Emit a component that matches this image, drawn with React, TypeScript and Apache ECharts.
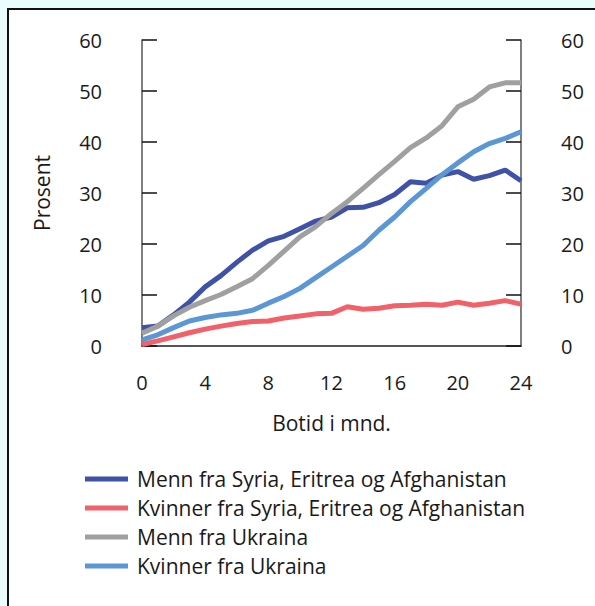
import React, { useEffect, useRef } from "react";
import * as echarts from "echarts";

const months = [0, 1, 2, 3, 4, 5, 6, 7, 8, 9, 10, 11, 12, 13, 14, 15, 16, 17, 18, 19, 20, 21, 22, 23, 24];
const mennSyria = [3.6, 3.9, 6.1, 8.6, 11.6, 13.8, 16.4, 18.8, 20.6, 21.5, 23.0, 24.5, 25.3, 27.1, 27.2, 28.1, 29.7, 32.2, 31.9, 33.5, 34.2, 32.7, 33.4, 34.5, 32.4];
const kvinnerSyria = [0.3, 1.0, 1.8, 2.6, 3.3, 3.9, 4.4, 4.8, 4.9, 5.5, 5.9, 6.3, 6.4, 7.7, 7.2, 7.4, 7.9, 8.0, 8.2, 8.0, 8.6, 8.0, 8.4, 8.9, 8.2];
const mennUkraina = [2.5, 3.9, 5.9, 7.6, 8.9, 10.1, 11.6, 13.2, 15.8, 18.6, 21.4, 23.4, 26.0, 28.3, 30.9, 33.6, 36.2, 38.9, 40.8, 43.2, 46.9, 48.4, 50.8, 51.6, 51.6];
const kvinnerUkraina = [1.2, 2.2, 3.6, 4.9, 5.6, 6.1, 6.4, 7.0, 8.4, 9.7, 11.3, 13.4, 15.5, 17.6, 19.7, 22.7, 25.3, 28.3, 30.9, 33.6, 35.9, 38.1, 39.7, 40.7, 42.0];
const seriesNames = [
  "Menn fra Syria, Eritrea og Afghanistan",
  "Kvinner fra Syria, Eritrea og Afghanistan",
  "Menn fra Ukraina",
  "Kvinner fra Ukraina",
];
const seriesColors = ["#3f52a6", "#f2606a", "#a0a0a0", "#5b97d5"];
const yTicks = [0, 10, 20, 30, 40, 50, 60];
const xTicks = [0, 4, 8, 12, 16, 20, 24];

const FONT = "'Open Sans', 'Noto Sans', sans-serif";
const TXT = "#1a1a1a";

export default function App() {
  const ref = useRef<HTMLDivElement>(null);
  useEffect(() => {
    document.body.style.margin = "0";
    document.body.style.background = "#e9fdfd";
    const chart = echarts.init(ref.current!, null, { renderer: "svg" });
    const allSeries = [mennSyria, kvinnerSyria, mennUkraina, kvinnerUkraina];
    const yAxisBase = (pos: "left" | "right") => ({
      type: "value" as const,
      position: pos,
      min: yTicks[0],
      max: yTicks[yTicks.length - 1],
      interval: 10,
      axisLine: { show: true, lineStyle: { color: "#555", width: 1.5 } },
      axisTick: { show: true, inside: true, length: 15, lineStyle: { color: "#111", width: 1.5 } },
      axisLabel: { margin: 40, fontSize: 20, color: TXT, fontFamily: FONT },
      splitLine: { show: false },
    });
    chart.setOption({
      animation: false,
      textStyle: { fontFamily: FONT },
      grid: { left: 142, right: 74, top: 40, bottom: 260, containLabel: false },
      xAxis: {
        type: "value",
        min: xTicks[0],
        max: xTicks[xTicks.length - 1],
        interval: 4,
        name: "Botid i mnd.",
        nameLocation: "middle",
        nameGap: 66,
        nameTextStyle: { fontSize: 21, color: TXT, fontFamily: FONT },
        axisLine: { show: true, onZero: false, lineStyle: { color: "#555", width: 2 } },
        axisTick: { show: false },
        axisLabel: { margin: 26, fontSize: 20, color: TXT, fontFamily: FONT },
        splitLine: { show: false },
      },
      yAxis: [
        {
          ...yAxisBase("left"),
          name: "Prosent",
          nameLocation: "middle",
          nameGap: 90,
          nameTextStyle: { fontSize: 21, color: TXT, fontFamily: FONT },
        },
        yAxisBase("right"),
      ],
      legend: {
        orient: "vertical",
        left: 80,
        top: 462,
        icon: "rect",
        itemWidth: 43,
        itemHeight: 5,
        itemGap: 5,
        data: seriesNames,
        textStyle: { fontSize: 21, color: TXT, fontFamily: FONT, padding: [0, 0, 0, 4], lineHeight: 24 },
      },
      series: seriesNames.map((name, i) => ({
        name,
        type: "line",
        yAxisIndex: 0,
        data: months.map((m, j) => [m, allSeries[i][j]]),
        symbol: "none",
        lineStyle: { color: seriesColors[i], width: 5 },
        itemStyle: { color: seriesColors[i] },
      })),
    });
    return () => chart.dispose();
  }, []);
  return (
    <div style={{ position: "relative", width: 595, height: 606, background: "#e9fdfd", overflow: "hidden" }}>
      <div
        style={{
          position: "absolute",
          left: 7,
          top: 8,
          right: 0,
          bottom: 0,
          background: "#fff",
          borderLeft: "2px solid #111",
          borderTop: "2px solid #111",
        }}
      />
      <div ref={ref} style={{ position: "absolute", left: 0, top: 0, width: 595, height: 606 }} />
    </div>
  );
}
